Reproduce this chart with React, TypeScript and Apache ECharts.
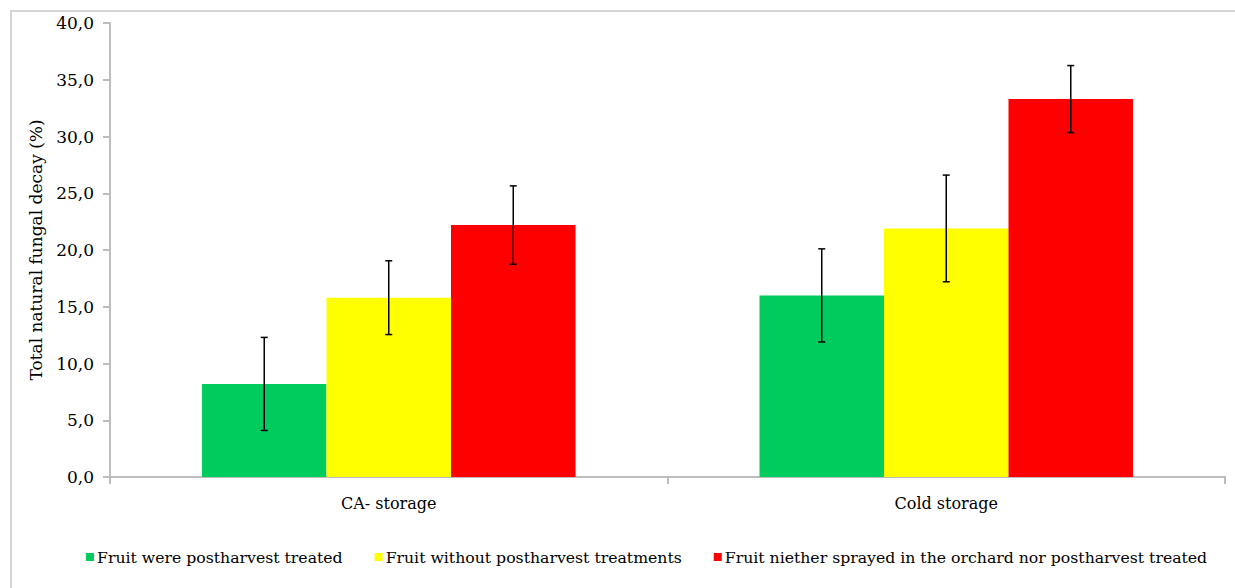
import React, { useEffect, useRef } from "react";
import * as echarts from "echarts";

const categories = ["CA- storage", "Cold storage"];
const seriesNames = [
  "Fruit were postharvest treated",
  "Fruit without postharvest treatments",
  "Fruit niether sprayed in the orchard nor postharvest treated",
];
const treatedValues = [8.2, 16.0];
const untreatedValues = [15.8, 21.9];
const unsprayedValues = [22.2, 33.3];
const treatedErrors = [4.1, 4.1];
const untreatedErrors = [3.25, 4.7];
const unsprayedErrors = [3.45, 2.95];
const colors = ["#00cc5e", "#ffff00", "#ff0000"];

const FONT = "DejaVu Serif";
const GAP = 0.33;

export default function App() {
  const ref = useRef<HTMLDivElement>(null);
  useEffect(() => {
    const chart = echarts.init(ref.current!, null, { renderer: "svg" });
    const values = [treatedValues, untreatedValues, unsprayedValues];
    const errors = [treatedErrors, untreatedErrors, unsprayedErrors];
    const barSeries = values.map((v, i) => ({
      name: seriesNames[i],
      type: "bar",
      data: v,
      barGap: "0%",
      barCategoryGap: GAP * 100 + "%",
      itemStyle: { color: colors[i] },
      z: 2,
    }));
    const errSeries = values.map((v, i) => ({
      type: "custom",
      name: "err" + i,
      data: v.map((val, j) => [j, val, errors[i][j]]),
      z: 5,
      renderItem: (params: any, api: any) => {
        const ci = api.value(0);
        const val = api.value(1);
        const e = api.value(2);
        const band = api.size([1, 0])[0];
        const bw = (band * (1 - GAP)) / 3;
        const center = api.coord([ci, val]);
        const x = center[0] + (i - 1) * bw;
        const yHi = api.coord([ci, val + e])[1];
        const yLo = api.coord([ci, val - e])[1];
        const st = { stroke: "#000", lineWidth: 1.5 };
        return {
          type: "group",
          children: [
            { type: "line", shape: { x1: x, y1: yHi, x2: x, y2: yLo }, style: st },
            { type: "line", shape: { x1: x - 3.5, y1: yHi, x2: x + 3.5, y2: yHi }, style: st },
            { type: "line", shape: { x1: x - 3.5, y1: yLo, x2: x + 3.5, y2: yLo }, style: st },
          ],
        };
      },
    }));
    chart.setOption({
      animation: false,
      backgroundColor: "#fff",
      graphic: [
        {
          type: "rect",
          shape: { x: 11, y: 11, width: 1240, height: 600 },
          style: { fill: "none", stroke: "#c8c8c8", lineWidth: 1.5 },
          silent: true,
        },
      ],
      grid: { left: 110, top: 23, right: 10, bottom: 111 },
      legend: {
        data: seriesNames,
        left: 86,
        top: 549,
        padding: 0,
        itemWidth: 8,
        itemHeight: 8,
        itemGap: 32,
        icon: "rect",
        textStyle: { fontFamily: FONT, fontSize: 15.7, color: "#000", padding: [0, 0, 0, -2] },
      },
      xAxis: {
        type: "category",
        data: categories,
        axisLine: { lineStyle: { color: "#bdbdbd", width: 2 } },
        axisTick: { show: true, length: 7, lineStyle: { color: "#bdbdbd", width: 2 } },
        axisLabel: { fontFamily: FONT, fontSize: 16, color: "#000", margin: 18 },
      },
      yAxis: {
        type: "value",
        min: 0,
        max: 40,
        interval: 5,
        name: "Total natural fungal decay (%)",
        nameLocation: "middle",
        nameGap: 66,
        nameTextStyle: { fontFamily: FONT, fontSize: 17, color: "#000" },
        axisLine: { show: true, lineStyle: { color: "#bdbdbd", width: 2 } },
        axisTick: { show: true, length: 7, lineStyle: { color: "#bdbdbd", width: 2 } },
        splitLine: { show: false },
        axisLabel: {
          fontFamily: FONT,
          fontSize: 17,
          color: "#000",
          margin: 16,
          formatter: (v: number) => v.toFixed(1).replace(".", ","),
        },
      },
      series: [...barSeries, ...errSeries],
    });
    return () => chart.dispose();
  }, []);
  return (
    <div
      ref={ref}
      style={{ width: 1235, height: 588, position: "absolute", left: 0, top: 0 }}
    />
  );
}
